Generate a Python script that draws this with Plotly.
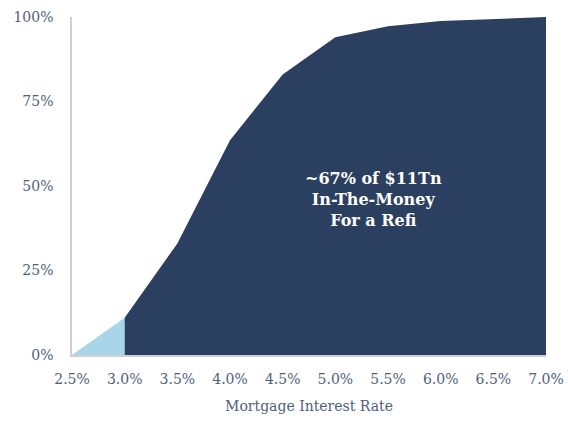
import plotly.graph_objects as go

# Data
rates_low = [2.5, 3.0]
share_low = [0, 11]
rates_high = [3.0, 3.5, 4.0, 4.5, 5.0, 5.5, 6.0, 6.5, 7.0]
share_high = [11, 33, 63.5, 83, 94, 97.3, 98.8, 99.5, 100]
x_ticks = [2.5, 3.0, 3.5, 4.0, 4.5, 5.0, 5.5, 6.0, 6.5, 7.0]
y_ticks = [0, 25, 50, 75, 100]
note_lines = ["~67% of $11Tn", "In-The-Money", "For a Refi"]

NAVY = "#2b3f61"
LIGHT = "#a8d5ea"
TXT = "#4f6179"
SERIF = "DejaVu Serif, Liberation Serif, serif"

fig = go.Figure()
fig.add_trace(go.Scatter(x=rates_low, y=share_low, mode="lines", fill="tozeroy",
                         line=dict(color=LIGHT, width=0), fillcolor=LIGHT,
                         hoverinfo="skip", showlegend=False))
fig.add_trace(go.Scatter(x=rates_high, y=share_high, mode="lines", fill="tozeroy",
                         line=dict(color=NAVY, width=0), fillcolor=NAVY,
                         hoverinfo="skip", showlegend=False))

fig.add_annotation(x=5.36, y=46, xref="x", yref="y", showarrow=False,
                   text="<br>".join(note_lines), align="center",
                   font=dict(family=SERIF, size=16, color="white", weight="bold"))

fig.update_layout(
    width=568, height=428,
    margin=dict(l=72, r=22, t=17, b=73),
    paper_bgcolor="white", plot_bgcolor="white",
    font=dict(family=SERIF, color=TXT, size=14),
    xaxis=dict(range=[2.5, 7.0], tickvals=x_ticks, automargin=False,
               ticktext=[f"{v:.1f}%" for v in x_ticks],
               showgrid=False, zeroline=False, showline=True,
               linecolor="#cfcfcf", linewidth=1.5,
               ticks="outside", ticklen=10, tickcolor="rgba(0,0,0,0)",
               tickfont=dict(size=14, color=TXT),
               title=dict(text="Mortgage Interest Rate", standoff=16,
                          font=dict(size=14, color=TXT))),
    yaxis=dict(range=[0, 100], tickvals=y_ticks, automargin=False,
               ticktext=[f"{v}%" for v in y_ticks],
               showgrid=False, zeroline=False, showline=True,
               linecolor="#cfcfcf", linewidth=1.5,
               ticks="outside", ticklen=14, tickcolor="rgba(0,0,0,0)",
               tickfont=dict(size=14, color=TXT)),
)

fig.write_html("out.html")
